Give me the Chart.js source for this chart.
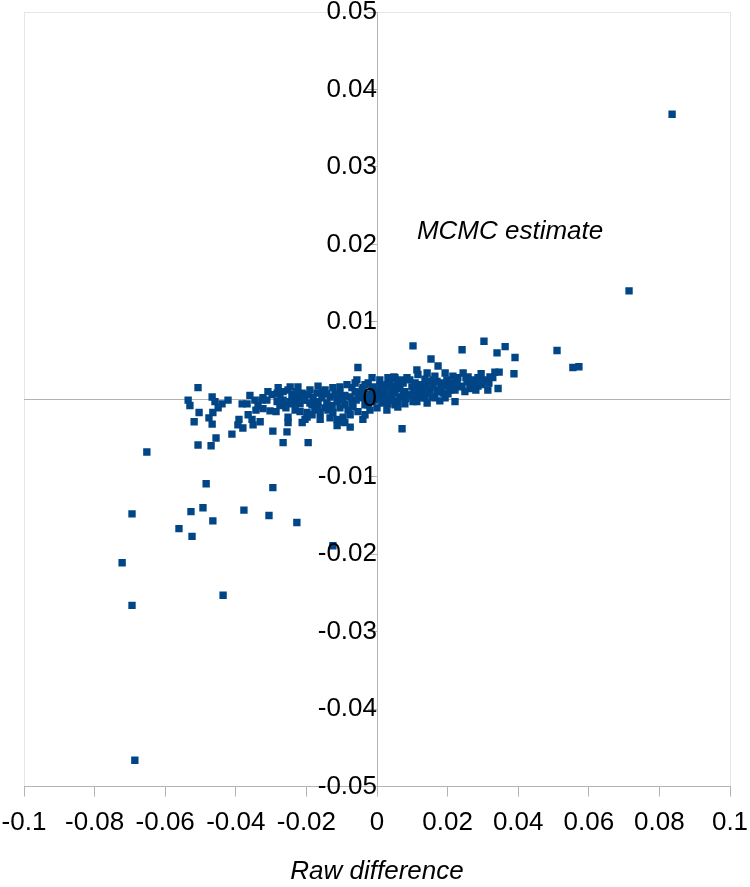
<!DOCTYPE html>
<html>
<head>
<meta charset="utf-8">
<script src="https://cdn.jsdelivr.net/npm/chart.js@4.4.1/dist/chart.umd.min.js"></script>
<style>
  html, body { margin: 0; padding: 0; background: #fff; }
  #wrap { width: 750px; height: 887px; }
</style>
</head>
<body>
<div id="wrap"><canvas id="scatter"></canvas></div>
<script>
// x: raw difference, y: MCMC estimate
const rawDiff = [
  0.0836, 0.0714, 0.0510, 0.0555, 0.0572, 0.0391, 0.0303, 0.0363, 0.0340, 0.0241,
  0.0102, 0.0153, 0.0173, 0.0334, 0.0346, 0.0388, 0.0343, 0.0221, 0.0142, 0.0113,
  0.0071, -0.0054, -0.0040, -0.0195, -0.0266, -0.0295, -0.0411, -0.0456, -0.0470, -0.0507,
  -0.0652, -0.0694, -0.0722, -0.0561, -0.0524, -0.0527, -0.0493, -0.0484, -0.0465, -0.0377,
  -0.0306, -0.0295, -0.0227, -0.0125, -0.0436, -0.0694, -0.0686, -0.0507, -0.0535, -0.0530,
  -0.0504, -0.0518, -0.0467, -0.0459, -0.0450, -0.0465, -0.0476, -0.0467, -0.0382, -0.0368,
  -0.0391, -0.0394, -0.0380, -0.0365, -0.0354, -0.0351, -0.0331, -0.0337, -0.0323, -0.0303,
  -0.0286, -0.0312, -0.0297, -0.0283, -0.0266, -0.0252, -0.0238, -0.0224, -0.0212, -0.0210,
  -0.0227, -0.0246, -0.0266, -0.0283, -0.0252, -0.0252, -0.0255, -0.0212, -0.0198, -0.0113,
  -0.0091, -0.0099, -0.0096, -0.0125, -0.0198, -0.0176, -0.0210, -0.0170, -0.0147, -0.0125,
  -0.0085, -0.0025, -0.0057, 0.0008, 0.0028, 0.0051, 0.0074, 0.0099, 0.0113, 0.0014,
  0.0037, 0.0065, 0.0000, -0.0014, -0.0028, -0.0048, -0.0068, -0.0091, -0.0113, -0.0142,
  -0.0167, -0.0190, -0.0204, -0.0184, -0.0161, 0.0113, 0.0142, 0.0215, 0.0244, 0.0258,
  0.0295, 0.0303, 0.0048, 0.0255, 0.0278, 0.0263, 0.0235, 0.0207, 0.0187, 0.0170,
  0.0150, 0.0130, 0.0113, 0.0102, 0.0170, 0.0187, 0.0306, 0.0116, 0.0042, 0.0059,
  0.0079, 0.0088, 0.0023, 0.0008, -0.0014, -0.0040, -0.0062, -0.0076, -0.0105, -0.0133,
  -0.0156, -0.0181, -0.0034, -0.0020, -0.0054, -0.0076, 0.0023, 0.0122, 0.0144, 0.0198,
  0.0227, 0.0286, 0.0320, 0.0156, 0.0193, 0.0031, 0.0059, 0.0079, -0.0006, -0.0059,
  -0.0091, -0.0127, -0.0147, -0.0232, -0.0258, -0.0275, -0.0323, -0.0346, -0.0360, -0.0422,
  -0.0439, -0.0014, -0.0034, -0.0076, -0.0113, -0.0190, -0.0167, -0.0105, -0.0071, 0.0014,
  0.0037, 0.0065, 0.0093, 0.0136, 0.0164, 0.0193, 0.0221, 0.0249, 0.0286, 0.0314,
  0.0178, 0.0136, 0.0051, 0.0008, -0.0020, -0.0105, -0.0167, -0.0218, -0.0241,
  0.0017, 0.0031, 0.0042, 0.0057, 0.0074, 0.0085, 0.0099, 0.0108, 0.0127, 0.0144,
  0.0159, 0.0178, 0.0198, 0.0212, 0.0229, 0.0241, 0.0269, 0.0280, 0.0297, 0.0317,
  0.0328, 0.0201, 0.0164, 0.0122, 0.0059, 0.0028, -0.0218, -0.0195, -0.0176, -0.0156,
  -0.0139, -0.0119, -0.0096, -0.0082, -0.0062, -0.0042, -0.0025, -0.0011, -0.0003, -0.0034,
  -0.0133, -0.0161, -0.0343, -0.0326, -0.0275, -0.0261, -0.0241, -0.0224, -0.0246, -0.0280,
  -0.0309,
  0.0008, 0.0025, 0.0045, 0.0068, 0.0082, 0.0105, 0.0122, 0.0139, 0.0159, 0.0181,
  0.0224, 0.0252, 0.0266, -0.0042, -0.0025, -0.0071, -0.0105, -0.0142, -0.0184, -0.0204,
  -0.0229, -0.0054, 0.0017, 0.0051, -0.0008
];
const mcmcEst = [
  0.0368, 0.0140, 0.0063, 0.0041, 0.0042, 0.0054, 0.0075, 0.0068, 0.0060, 0.0064,
  0.0069, 0.0052, 0.0043, 0.0035, 0.0035, 0.0033, 0.0014, -0.0003, -0.0005, -0.0003,
  -0.0038, 0.0041, -0.0026, -0.0056, -0.0056, -0.0041, -0.0045, -0.0050, -0.0060, -0.0059,
  -0.0068, -0.0148, -0.0211, -0.0167, -0.0177, -0.0145, -0.0140, -0.0109, -0.0157, -0.0143,
  -0.0150, -0.0114, -0.0159, -0.0189, -0.0253, -0.0266, -0.0466, 0.0015, -0.0001, -0.0008,
  -0.0017, -0.0029, 0.0003, -0.0003, -0.0011, -0.0017, -0.0024, -0.0032, -0.0006, -0.0006,
  -0.0026, -0.0033, -0.0037, -0.0020, -0.0026, -0.0033, -0.0029, -0.0008, -0.0012, -0.0015,
  -0.0016, -0.0001, 0.0006, 0.0008, 0.0010, 0.0012, 0.0006, 0.0016, 0.0008, -0.0001,
  -0.0005, -0.0003, -0.0001, -0.0003, -0.0023, -0.0030, -0.0042, -0.0030, -0.0023, -0.0034,
  -0.0030, -0.0029, -0.0023, -0.0017, -0.0017, -0.0014, 0.0003, 0.0008, 0.0012, 0.0015,
  0.0019, 0.0021, 0.0025, 0.0025, 0.0019, 0.0028, 0.0021, 0.0016, 0.0008, -0.0005,
  -0.0001, 0.0003, -0.0011, -0.0003, 0.0003, 0.0008, -0.0010, -0.0007, -0.0003, -0.0005,
  -0.0003, -0.0005, -0.0026, -0.0020, -0.0017, 0.0038, 0.0034, 0.0030, 0.0034, 0.0029,
  0.0033, 0.0025, 0.0029, 0.0023, 0.0019, 0.0014, 0.0016, 0.0012, 0.0008, 0.0010,
  0.0012, 0.0008, 0.0003, -0.0003, 0.0023, 0.0021, 0.0023, 0.0032, 0.0011, 0.0014,
  0.0010, 0.0005, 0.0006, 0.0010, 0.0012, 0.0015, 0.0010, 0.0003, 0.0008, 0.0003,
  0.0002, 0.0002, -0.0007, -0.0014, -0.0016, -0.0020, 0.0015, 0.0019, 0.0023, 0.0025,
  0.0023, 0.0028, 0.0029, 0.0003, 0.0002, -0.0006, -0.0002, -0.0006, -0.0001, -0.0001,
  0.0005, -0.0008, -0.0011, -0.0014, -0.0011, -0.0008, 0.0002, -0.0001, 0.0005, -0.0001,
  -0.0006, 0.0028, 0.0019, -0.0036, -0.0026, 0.0012, 0.0017, 0.0016, 0.0015, 0.0017,
  0.0021, 0.0019, 0.0025, 0.0026, 0.0030, 0.0034, 0.0012, 0.0010, 0.0017, 0.0012,
  -0.0002, 0.0002, -0.0007, 0.0002, 0.0006, -0.0011, -0.0011, -0.0016, 0.0003,
  0.0010, 0.0028, 0.0002, 0.0020, 0.0010, 0.0028, 0.0006, 0.0021, 0.0015, 0.0008,
  0.0017, 0.0012, 0.0017, 0.0021, 0.0028, 0.0017, 0.0025, 0.0012, 0.0019, 0.0021,
  0.0028, 0.0007, 0.0002, 0.0002, -0.0010, -0.0014, -0.0006, 0.0006, -0.0003, 0.0010,
  -0.0014, 0.0006, -0.0001, -0.0014, 0.0021, 0.0002, -0.0007, 0.0016, 0.0006, -0.0020,
  -0.0024, -0.0026, -0.0014, -0.0001, 0.0003, -0.0007, -0.0006, 0.0003, 0.0016, 0.0015,
  0.0010,
  0.0017, -0.0001, 0.0016, 0.0025, 0.0001, 0.0014, 0.0010, 0.0017, 0.0025, 0.0017,
  0.0020, 0.0028, 0.0019, 0.0012, 0.0002, -0.0005, 0.0002, 0.0007, -0.0007, -0.0001,
  0.0010, 0.0006, 0.0003, 0.0008, 0.0008
];

const xTickValues = [-0.1, -0.08, -0.06, -0.04, -0.02, 0, 0.02, 0.04, 0.06, 0.08, 0.1];
const xTickLabels = ['-0.1', '-0.08', '-0.06', '-0.04', '-0.02', '0', '0.02', '0.04', '0.06', '0.08', '0.1'];
const yTickValues = [-0.05, -0.04, -0.03, -0.02, -0.01, 0, 0.01, 0.02, 0.03, 0.04, 0.05];
const yTickLabels = ['-0.05', '-0.04', '-0.03', '-0.02', '-0.01', '0', '0.01', '0.02', '0.03', '0.04', '0.05'];

const xTitle = 'Raw difference';
const yTitle = 'MCMC estimate';

const FONT = '"Liberation Sans", Arial, sans-serif';
const AXIS_GREY = '#b3b3b3';
const EDGE_GREY = '#e6e6e6';

const near = (a, b) => Math.abs(a - b) < 1e-9;

// the y title sits inside the plot, right of the axis
const yTitleText = {
  id: 'yTitleText',
  afterDraw(chart) {
    const { ctx, scales: { x, y } } = chart;
    ctx.save();
    ctx.font = 'italic 26px ' + FONT;
    ctx.fillStyle = '#000';
    ctx.textAlign = 'left';
    ctx.textBaseline = 'middle';
    ctx.fillText(yTitle, x.getPixelForValue(0.0113), y.getPixelForValue(0.0216));
    ctx.restore();
  }
};

new Chart(document.getElementById('scatter').getContext('2d'), {
  type: 'scatter',
  data: {
    datasets: [{
      label: yTitle,
      data: rawDiff.map((v, i) => ({ x: v, y: mcmcEst[i] })),
      pointStyle: 'rect',
      pointRadius: 5.2,
      pointHoverRadius: 5.2,
      borderWidth: 0,
      backgroundColor: '#004586',
      borderColor: '#004586'
    }]
  },
  options: {
    responsive: true,
    maintainAspectRatio: false,
    animation: false,
    events: [],
    layout: { padding: { top: 12, bottom: 0, left: 24, right: 20 } },
    plugins: { legend: { display: false }, tooltip: { enabled: false } },
    scales: {
      x: {
        type: 'linear',
        position: 'bottom',
        min: -0.1,
        max: 0.1,
        afterBuildTicks: s => { s.ticks = xTickValues.map(v => ({ value: v })); },
        afterFit: s => { s.paddingLeft = 0; s.paddingRight = 0; },
        ticks: {
          autoSkip: false,
          maxRotation: 0,
          padding: 11,
          color: '#000',
          font: { family: FONT, size: 26 },
          callback: (v, i) => xTickLabels[i]
        },
        grid: {
          color: c => (near(c.tick.value, -0.1) || near(c.tick.value, 0.1)) ? EDGE_GREY : 'transparent',
          tickColor: AXIS_GREY,
          tickLength: 10
        },
        border: { color: AXIS_GREY },
        title: {
          display: true,
          text: xTitle,
          color: '#000',
          font: { family: FONT, size: 26, style: 'italic' },
          padding: { top: 6, bottom: 0 }
        }
      },
      y: {
        type: 'linear',
        position: { x: 0 },
        min: -0.05,
        max: 0.05,
        afterBuildTicks: s => { s.ticks = yTickValues.map(v => ({ value: v })); },
        afterFit: s => { s.paddingTop = 0; s.paddingBottom = 0; },
        ticks: {
          z: 1,
          padding: 6,
          color: '#000',
          font: { family: FONT, size: 26 },
          callback: (v, i) => yTickLabels[i]
        },
        grid: {
          color: c => near(c.tick.value, 0) ? AXIS_GREY
            : (near(c.tick.value, 0.05) || near(c.tick.value, -0.05)) ? EDGE_GREY : 'transparent',
          tickColor: AXIS_GREY,
          tickLength: 9
        },
        border: { color: AXIS_GREY }
      }
    }
  },
  plugins: [yTitleText]
});
</script>
</body>
</html>
